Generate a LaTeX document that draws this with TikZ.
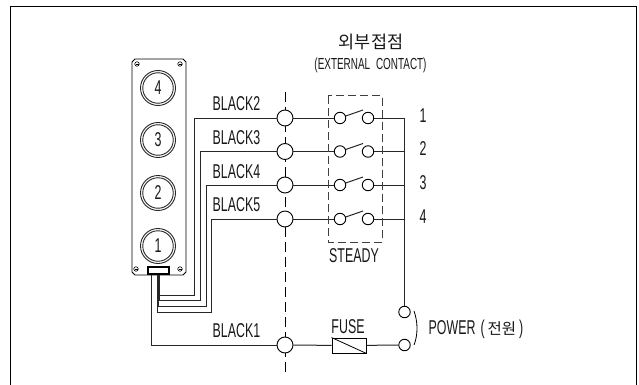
\documentclass[tikz,border=0pt]{standalone}
\usepackage{fontspec}
\setmainfont{Liberation Sans}
\newfontfamily\cjk{Noto Sans CJK KR}
\newcommand{\nar}[2][0.62]{\scalebox{#1}[1]{#2}}
\tikzset{
  wire/.style={draw=black!85,line width=1pt},
  term/.style={circle,draw=black,fill=white,line width=0.9pt,minimum size=16pt,inner sep=0pt},
  cont/.style={circle,draw=black,fill=white,line width=0.9pt,minimum size=11.5pt,inner sep=0pt},
  lab/.style={inner sep=0pt,font=\fontsize{20}{21}\selectfont,text=black!90},
  screw/.style={circle,draw=black,line width=0.6pt,minimum size=4.5pt,inner sep=0pt},
  btnout/.style={circle,draw=black!85,line width=0.9pt,minimum size=35pt,inner sep=0pt},
  btnin/.style={circle,draw=black!85,line width=0.9pt,minimum size=30.5pt,inner sep=0pt},
}
\begin{document}
\begin{tikzpicture}[x=1pt,y=-1pt]
\useasboundingbox (0,0) rectangle (639,385);
\fill[white] (0,0) rectangle (639,385);
% panel
\draw[line width=0.9pt,draw=black] (135,59) -- (183,59) -- (186,62) -- (186,272) -- (183,275) -- (135,275) -- (132,272) -- (132,62) -- cycle;
\foreach \n/\a/\b in {s1/137/64,s2/180/64,s3/136/269,s4/180/269}{
  \node[screw] (\n) at (\a,\b) {};
  \draw[line width=0.5pt] (\a-1.5,\b) -- (\a+1.5,\b);
}
\foreach \t/\yy in {4/88,3/140,2/193,1/246}{
  \node[btnout] (bo\t) at (158,\yy) {};
  \node[btnin,lab] (b\t) at (158,\yy) {\nar{\t}};
}
% dashed centre line
\coordinate (ct) at (285,92); \coordinate (cb) at (285,372);
\draw[black,line width=0.9pt,dash pattern=on 10pt off 5pt] (ct) -- (cb);
% terminals
\foreach \n/\yy in {t2/118,t3/151.5,t4/185,t5/219,t1/345}{
  \node[term] (\n) at (285,\yy) {};
}
% right contacts
\foreach \k/\yy in {1/118,2/151.5,3/185,4/219}{
  \node[cont] (cl\k) at (340,\yy) {};
  \node[cont] (cr\k) at (368,\yy) {};
  \coordinate (sw\k) at (363,\yy-8);
  \draw[wire] (cl\k) -- (sw\k);
  \coordinate (bus\k) at (404.5,\yy);
  \draw[wire] (cr\k) -- (bus\k);
  \node[lab] (n\k) at (423,\yy-2.5) {\nar{\k}};
}
\draw[wire] (t2) -- (cl1);
\draw[wire] (t3) -- (cl2);
\draw[wire] (t4) -- (cl3);
\draw[wire] (t5) -- (cl4);
% connector
\node[draw=black,fill=white,line width=1.3pt,minimum width=21pt,minimum height=7pt,inner sep=0pt] (conn) at (158.5,270.5) {};
% wires to connector
\draw[wire] (conn.south-|159.8,0) -- (159.8,295) -| (194,118) -- (t2);
\draw[wire] (conn.south-|159,0) -- (159,300) -| (200,151.5) -- (t3);
\draw[wire] (conn.south-|158.3,0) -- (158.3,306) -| (206,185) -- (t4);
\draw[wire] (conn.south-|157.5,0) -- (157.5,312) -| (211,219) -- (t5);
\draw[wire] (conn.south-|151.5,0) -- (151.5,345) -- (t1);
% bus and power
\node[cont] (pw1) at (404.5,312) {};
\node[cont] (pw2) at (404.5,345) {};
\draw[wire] (bus1) -- (pw1);
\node[draw=black,fill=white,line width=0.9pt,minimum width=34pt,minimum height=15pt,inner sep=0pt] (fuse) at (349,345.5) {};
\draw[black,line width=0.8pt] (fuse.north west) -- (fuse.south east);
\draw[wire] (t1) -- (fuse);
\draw[wire] (fuse) -- (pw2);
\draw[black,line width=0.8pt] (414,311) .. controls (418,322) and (418,335) .. (414,345);
% dashed box
\draw[black!75,line width=1pt,dash pattern=on 8pt off 4pt] (328,96) rectangle (382,242);
% labels
\node[lab] (l2) at (236.5,103.5) {\nar{BLACK2}};
\node[lab] (l3) at (236.5,138) {\nar{BLACK3}};
\node[lab] (l4) at (236.5,172) {\nar{BLACK4}};
\node[lab] (l5) at (236.5,205) {\nar{BLACK5}};
\node[lab] (l1) at (236.5,331) {\nar{BLACK1}};
\node[lab] (steady) at (354,256) {\nar{STEADY}};
\node[lab] (fl) at (348,327) {\nar{FUSE}};
\node[lab] (power) at (476,329.5) {\nar{POWER}\hspace{5pt}\nar{(}\hspace{3pt}{\cjk\fontsize{15.5}{17}\selectfont 전원}\hspace{3pt}\nar{)}};
\node[lab] (title) at (371,42) {\cjk\fontsize{17.5}{18}\selectfont 외부접점};
\node[lab,font=\fontsize{16}{17}\selectfont] (sub) at (370.5,65) {\nar[0.62]{(EXTERNAL\hspace{5pt} CONTACT)}};
% frame
\draw[black,line width=0.9pt] (10,385) -- (10,6) -- (636,6) -- (636,385);
\end{tikzpicture}
\end{document}
